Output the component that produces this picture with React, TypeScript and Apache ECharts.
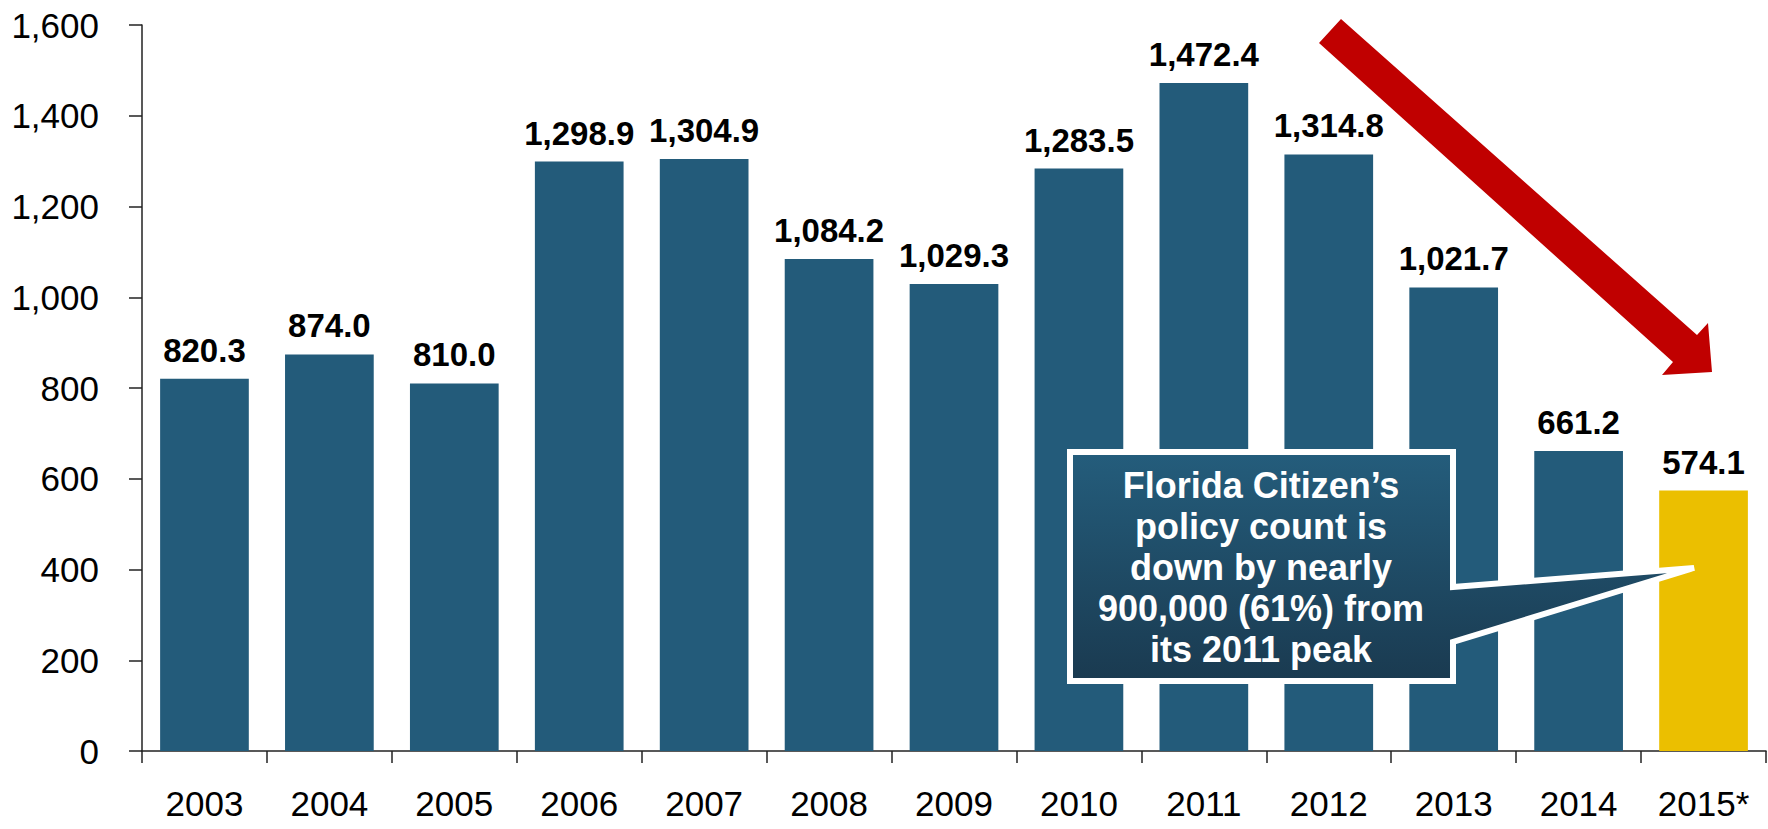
import React, { useEffect, useRef } from "react";
import * as echarts from "echarts";

const categories = ["2003", "2004", "2005", "2006", "2007", "2008", "2009", "2010", "2011", "2012", "2013", "2014", "2015*"];
const policyCounts = [820.3, 874.0, 810.0, 1298.9, 1304.9, 1084.2, 1029.3, 1283.5, 1472.4, 1314.8, 1021.7, 661.2, 574.1];
const highlightCategory = "2015*";
const yTicks = { min: 0, max: 1600, interval: 200 };
const calloutText = ["Florida Citizen\u2019s", "policy count is", "down by nearly", "900,000 (61%) from", "its 2011 peak"];

const FONT = "'Liberation Sans', Arial, sans-serif";
const BLUE = "#235B7A";
const GOLD = "#EBBF00";
const RED = "#C00000";

const fmt = (v: number, dec: number) =>
  v.toLocaleString("en-US", { minimumFractionDigits: dec, maximumFractionDigits: dec });

export default function App() {
  const ref = useRef<HTMLDivElement>(null);
  useEffect(() => {
    if (!ref.current) return;
    const chart = echarts.init(ref.current, null, { renderer: "svg" });
    const data = policyCounts.map((v, i) => ({
      value: v,
      itemStyle: { color: categories[i] === highlightCategory ? GOLD : BLUE },
    }));
    chart.setOption({
      animation: false,
      backgroundColor: "#ffffff",
      grid: { left: 142, right: 2, top: 25, bottom: 78, containLabel: false, outerBoundsMode: "none" },
      xAxis: {
        type: "category",
        data: categories,
        boundaryGap: true,
        axisLine: { show: true, lineStyle: { color: "#222", width: 1.5 } },
        axisTick: { show: true, length: 12, lineStyle: { color: "#222", width: 1.5 } },
        axisLabel: { color: "#000", fontFamily: FONT, fontSize: 35, margin: 35, interval: 0 },
        splitLine: { show: false },
      },
      yAxis: {
        type: "value",
        min: yTicks.min,
        max: yTicks.max,
        interval: yTicks.interval,
        axisLine: { show: true, lineStyle: { color: "#222", width: 1.5 } },
        axisTick: { show: true, length: 13, lineStyle: { color: "#222", width: 1.5 } },
        axisLabel: {
          color: "#000",
          fontFamily: FONT,
          fontSize: 35,
          margin: 43,
          formatter: (v: number) => fmt(v, 0),
        },
        splitLine: { show: false },
      },
      series: [
        {
          type: "bar",
          data,
          barCategoryGap: "29%",
          label: {
            show: true,
            position: "top",
            distance: 12,
            color: "#000",
            fontFamily: FONT,
            fontWeight: "bold",
            fontSize: 33,
            formatter: (p: any) => fmt(p.value, 1),
          },
        },
      ],
      graphic: [
        {
          type: "polygon",
          z: 100,
          shape: {
            points: [
              [1341, 19],
              [1697, 335],
              [1708, 323],
              [1712, 372],
              [1662, 375],
              [1673, 362],
              [1319, 43],
            ],
          },
          style: { fill: RED },
        },
        {
          type: "polygon",
          z: 100,
          shape: {
            points: [
              [1070, 452],
              [1453, 452],
              [1453, 587],
              [1694, 568],
              [1453, 642],
              [1453, 681],
              [1070, 681],
            ],
          },
          style: {
            fill: new echarts.graphic.LinearGradient(0, 0, 0, 1, [
              { offset: 0, color: "#245D7C" },
              { offset: 1, color: "#1A3A50" },
            ]),
            stroke: "#ffffff",
            lineWidth: 6,
            lineJoin: "miter",
          },
        },
        {
          type: "text",
          z: 101,
          x: 1261,
          y: 567,
          style: {
            text: calloutText.join("\n"),
            fill: "#ffffff",
            font: `bold 36px ${FONT}`,
            align: "center",
            verticalAlign: "middle",
            lineHeight: 41,
          },
        },
      ],
    });
    return () => chart.dispose();
  }, []);
  return <div ref={ref} style={{ position: "absolute", left: 0, top: 0, width: 1768, height: 829 }} />;
}
